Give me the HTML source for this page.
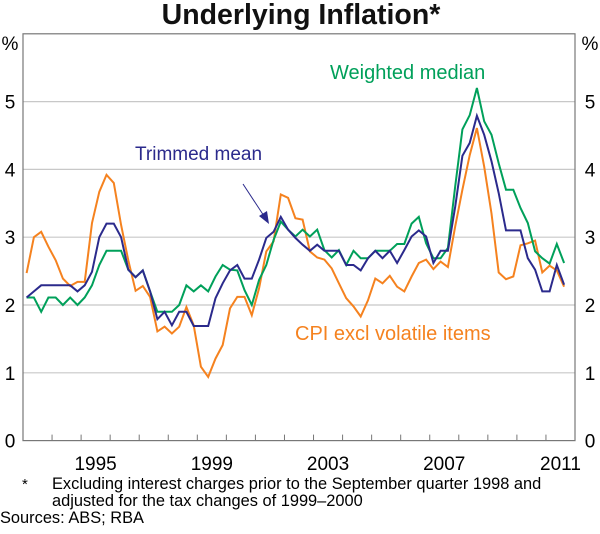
<!DOCTYPE html>
<html><head><meta charset="utf-8"><style>
body{margin:0;background:#fff;font-family:"Liberation Sans",Arial,sans-serif;}
svg text{font-family:"Liberation Sans",Arial,sans-serif;}
</style></head><body>
<svg id="chart" width="600" height="529" xmlns="http://www.w3.org/2000/svg">
<text x="301" y="24" text-anchor="middle" font-size="28.5" font-weight="bold" fill="#111">Underlying Inflation*</text>
<g id="grid"></g>
<rect x="23" y="33.8" width="552" height="406.8" fill="none" stroke="#777" stroke-width="1.2"/>
<g id="axes"></g>
<g id="series"></g>
<text x="330" y="79" font-size="20" fill="#00a05a">Weighted median</text>
<text x="135" y="160" font-size="19" fill="#2b2a8c">Trimmed mean</text>
<text x="295" y="340" font-size="20" fill="#f5821f">CPI excl volatile items</text>
<g>
<line x1="243" y1="184" x2="264" y2="216" stroke="#2b2a8c" stroke-width="1"/>
<polygon points="269,224 259,216 267,211" fill="#2b2a8c"/>
</g>
<text x="10" y="50" font-size="19" text-anchor="middle">%</text>
<text x="590" y="50" font-size="19" text-anchor="middle">%</text>
<text x="22" y="489" font-size="15">*</text>
<text x="52" y="489" font-size="16.4">Excluding interest charges prior to the September quarter 1998 and</text>
<text x="52" y="506" font-size="16.4">adjusted for the tax changes of 1999–2000</text>
<text x="0" y="523" font-size="16.4">Sources: ABS; RBA</text>
</svg>
<script>
const yTicks=[0,1,2,3,4,5];
const yearLabels=[1995,1999,2003,2007,2011];
const startYear=1993;
const weightedMedian=[2.11,2.11,1.9,2.11,2.11,2.0,2.11,2.0,2.11,2.29,2.59,2.8,2.8,2.8,2.52,2.41,2.51,2.2,1.9,1.9,1.9,2.0,2.29,2.2,2.29,2.2,2.42,2.59,2.52,2.51,2.22,2.0,2.37,2.59,2.96,3.23,3.11,3.01,3.11,3.01,3.11,2.81,2.7,2.81,2.59,2.8,2.69,2.69,2.8,2.8,2.8,2.9,2.9,3.2,3.3,2.91,2.69,2.69,2.84,3.75,4.59,4.8,5.2,4.71,4.51,4.09,3.7,3.7,3.43,3.21,2.79,2.69,2.61,2.9,2.62];
const trimmedMean=[2.11,2.2,2.29,2.29,2.29,2.29,2.29,2.2,2.29,2.49,3.0,3.2,3.2,3.0,2.52,2.41,2.51,2.2,1.79,1.9,1.7,1.9,1.9,1.69,1.69,1.69,2.1,2.32,2.51,2.59,2.39,2.39,2.67,2.99,3.08,3.3,3.11,2.99,2.89,2.8,2.89,2.8,2.8,2.8,2.59,2.59,2.51,2.69,2.8,2.69,2.8,2.62,2.81,3.01,3.1,3.01,2.62,2.8,2.8,3.45,4.2,4.39,4.79,4.51,4.12,3.65,3.1,3.1,3.1,2.69,2.52,2.2,2.2,2.59,2.3];
const cpiExclVolatile=[2.47,3.0,3.08,2.86,2.66,2.39,2.28,2.34,2.34,3.21,3.67,3.92,3.8,3.18,2.66,2.21,2.28,2.12,1.61,1.68,1.58,1.68,1.97,1.7,1.09,0.94,1.21,1.41,1.95,2.12,2.12,1.85,2.25,2.79,2.94,3.63,3.58,3.28,3.26,2.79,2.7,2.67,2.54,2.32,2.1,1.98,1.83,2.07,2.39,2.32,2.43,2.27,2.2,2.42,2.62,2.67,2.53,2.64,2.56,3.16,3.7,4.21,4.61,4.04,3.35,2.48,2.38,2.42,2.88,2.91,2.95,2.48,2.58,2.51,2.27];
const NS="http://www.w3.org/2000/svg";
const X0=23,X1=575,Y0=440.6,Y1=33.8,YMAX=6,YEARS=19;
function xScale(t){return X0+(t-startYear)*(X1-X0)/YEARS;}
function yScale(v){return Y0-v*(Y0-Y1)/YMAX;}
function mk(tag,attrs,parent){const e=document.createElementNS(NS,tag);for(const k in attrs)e.setAttribute(k,attrs[k]);parent.appendChild(e);return e;}
const grid=document.getElementById('grid'),axes=document.getElementById('axes'),series=document.getElementById('series');
yTicks.forEach(v=>{
  if(v>0){const g=mk('line',{x1:X0,x2:X1,y1:yScale(v),y2:yScale(v),stroke:'#c8c8c8','stroke-width':1.2},grid);
  
  }
  const l=mk('text',{x:10,y:yScale(v)+7,'font-size':19,'text-anchor':'middle'},axes);l.textContent=v;
  
  
  const r=mk('text',{x:590,y:yScale(v)+7,'font-size':19,'text-anchor':'middle'},axes);r.textContent=v;
  
  
});
for(let y=startYear+1;y<startYear+YEARS;y++){
  const t=mk('line',{x1:xScale(y),x2:xScale(y),y1:Y0,y2:Y0-6,stroke:'#777','stroke-width':1},axes);
  
  
}
yearLabels.forEach(y=>{
  const t=mk('text',{x:xScale(y+0.5),y:470,'font-size':19,'text-anchor':'middle'},axes);t.textContent=y;
  
  
});
function draw(arr,color,name){
  const pts=arr.map((v,i)=>xScale(startYear+(i+0.5)/4).toFixed(1)+','+yScale(v).toFixed(1)).join(' ');
  const p=mk('polyline',{points:pts,fill:'none',stroke:color,'stroke-width':2,'stroke-linejoin':'miter'},series);
  
  
}
draw(cpiExclVolatile,'#f5821f','cpi-excl-volatile-line');
draw(weightedMedian,'#00a05a','weighted-median-line');
draw(trimmedMean,'#2b2a8c','trimmed-mean-line');
</script>
</body></html>
